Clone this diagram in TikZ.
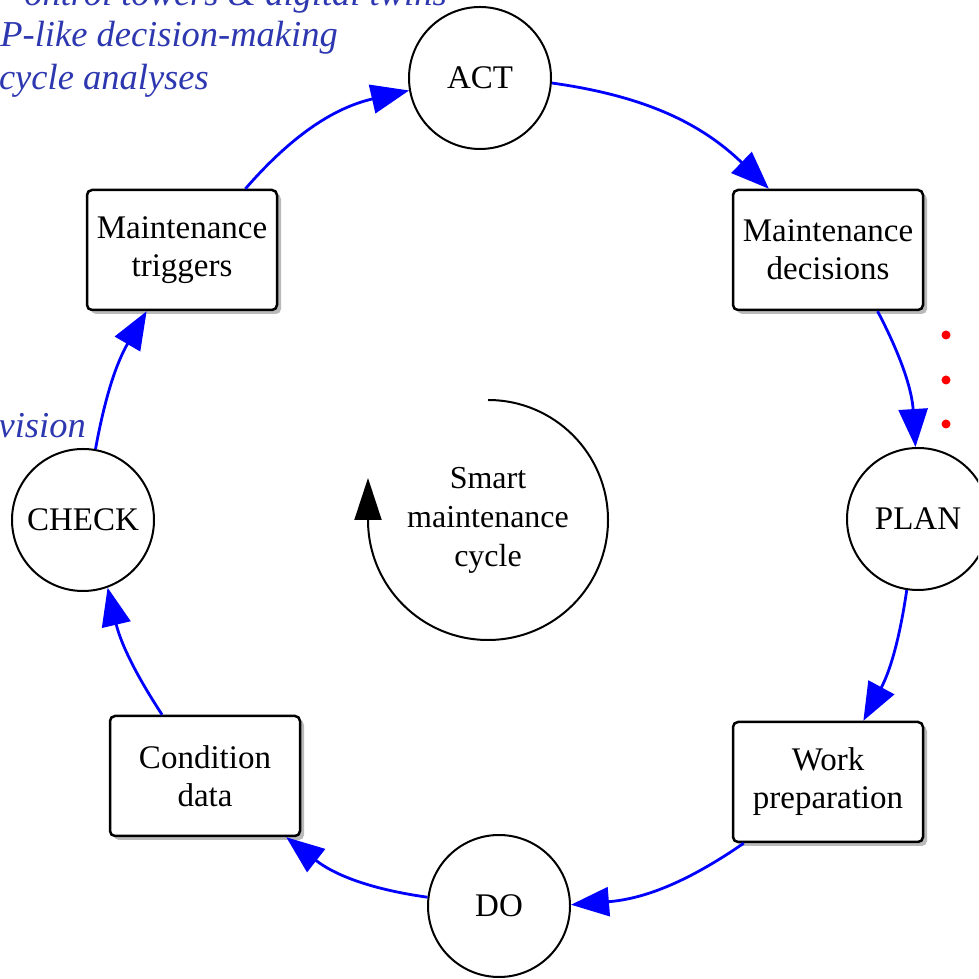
\documentclass[tikz,border=0pt]{standalone}
\usepackage{fontspec}
\setmainfont{Liberation Serif}
\usetikzlibrary{arrows.meta,shadows}
\definecolor{noteblue}{RGB}{45,55,175}
\begin{document}
\begin{tikzpicture}[x=1pt,y=1pt,
  stage/.style={circle, draw=black, line width=2pt, fill=white, minimum size=142pt, inner sep=0pt,
    font=\fontsize{33}{38}\selectfont},
  task/.style={rectangle, rounded corners=5pt, draw=black, line width=2.5pt, fill=white,
    minimum width=190pt, minimum height=120pt, align=center, inner sep=0pt,
    drop shadow={shadow xshift=4pt, shadow yshift=-4pt, fill=black!45, opacity=0.6},
    font=\fontsize{33}{38}\selectfont},
  flow/.style={draw=blue, line width=2.8pt, -{Triangle[length=38pt,width=29pt]}},
  note/.style={inner sep=0pt, text=noteblue, font=\fontsize{36.5}{42}\selectfont\itshape},
  reddot/.style={circle, fill=red, inner sep=0pt, minimum size=9pt}
]
\useasboundingbox (0,0) rectangle (978,979);
\clip (0,0) rectangle (978,979);

% notes (partially cut off in the reference)
\node[note, anchor=base east] (n1) at (447,973) {ontrol towers \& digital twins};
\node[note, anchor=base east] (n2) at (338,932) {P-like decision-making};
\node[note, anchor=base east] (n3) at (209,889) {cycle analyses};
\node[note, anchor=base east] (n4) at (86,541) {vision};

\node[reddot] (d1) at (946,644) {};
\node[reddot] (d2) at (946,599) {};
\node[reddot] (d3) at (946,555) {};

% stages
\node[stage] (act) at (480,901) {ACT};
\node[stage] (plan) at (918,460) {PLAN};
\node[stage] (do) at (499,73) {DO};
\node[stage] (check) at (83,459) {CHECK};

% tasks
\node[task] (dec) at (828,729) {Maintenance\\decisions};
\node[task] (trig) at (182,729) {Maintenance\\triggers};
\node[task] (cond) at (205,203) {Condition\\data};
\node[task] (work) at (828,197) {Work\\preparation};

% flows
\draw[flow] (trig.44.5) to[bend left=18] (act.190);
\draw[flow] (act.356) to[bend left=18] (dec.134);
\draw[flow] (dec.309) to[bend left=12] (plan.92);
\draw[flow] (plan.261) to[bend left=10] (work.60.5);
\draw[flow] (work.216.5) to[bend left=15] (do.1);
\draw[flow] (do.173) to[bend left=15] (cond.323);
\draw[flow] (cond.125) to[bend left=10] (check.290);
\draw[flow] (check.80) to[bend left=10] (trig.240);

% centre
\node[inner sep=0pt, align=center, font=\fontsize{32}{39}\selectfont] (ctr) at (488,459) {Smart\\maintenance\\cycle};
\coordinate (arcstart) at (488,579);
\draw[line width=2pt, -{Triangle[length=42pt,width=27pt]}] (arcstart) arc[start angle=90, end angle=-180, radius=120] -- ++(0,42);
\end{tikzpicture}
\end{document}
